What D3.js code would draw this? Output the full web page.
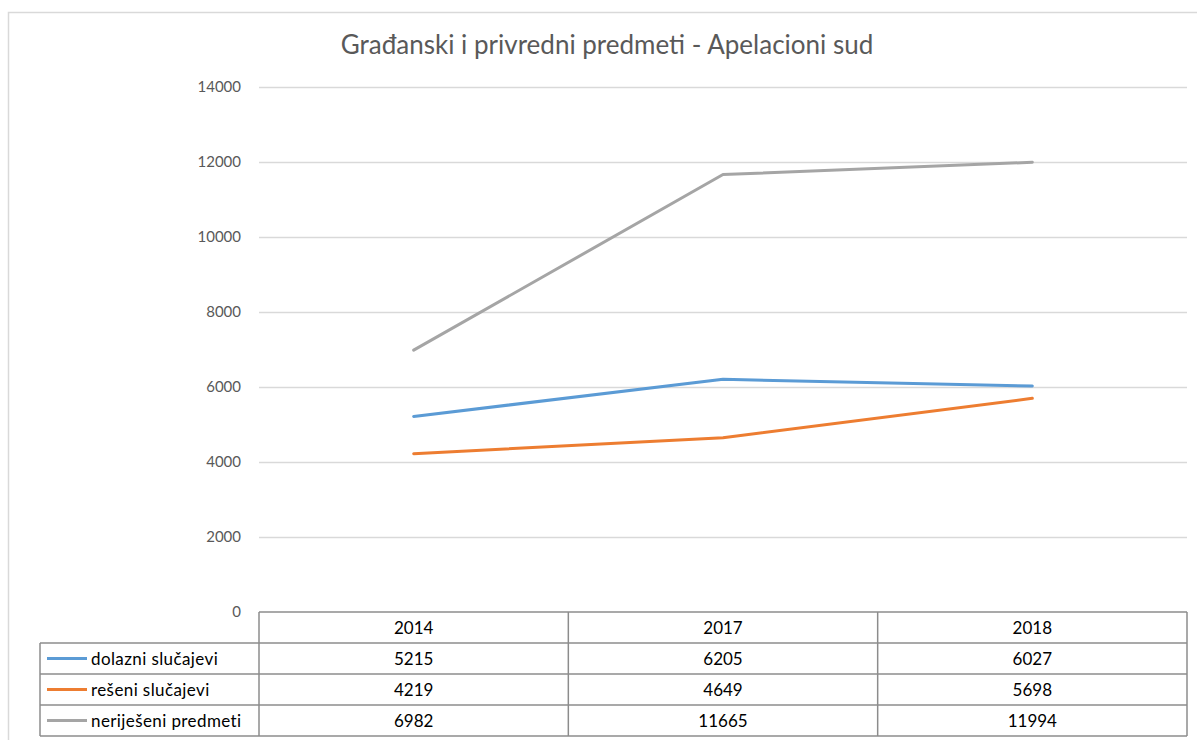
<!DOCTYPE html>
<html>
<head>
<meta charset="utf-8">
<script src="https://cdn.jsdelivr.net/npm/d3@7"></script>
<style>
  body { margin: 0; background: #fff; }
  text { font-family: Lato, "Open Sans", sans-serif; }
</style>
</head>
<body>
<div id="chart"></div>
<script>
// chart data
const years = ["2014", "2017", "2018"];
const seriesNames = ["dolazni slučajevi", "rešeni slučajevi", "neriješeni predmeti"];
const dolazni = [5215, 6205, 6027];
const reseni = [4219, 4649, 5698];
const nerijeseni = [6982, 11665, 11994];
const yTicks = [0, 2000, 4000, 6000, 8000, 10000, 12000, 14000];
const colors = ["#5B9BD5", "#ED7D31", "#A5A5A5"];

const allSeries = [dolazni, reseni, nerijeseni];

const W = 1197, H = 740;
const plot = { left: 259, right: 1187, top: 87, bottom: 612 };
const rowH = 31;
const tableLeft = 40;

const svg = d3.select("#chart").append("svg")
    .attr("width", W)
    .attr("height", H);

// outer chart border
svg.append("rect")
    .attr("x", 8.5).attr("y", 12.5)
    .attr("width", 1300).attr("height", 800)
    .attr("fill", "none")
    .attr("stroke", "#d9d9d9")
    .attr("stroke-width", 1.5);

svg.append("text")
    .attr("x", 607).attr("y", 54)
    .attr("text-anchor", "middle")
    .attr("font-size", 26)
    .attr("fill", "#595959")
    .text("Građanski i privredni predmeti - Apelacioni sud");

const x = d3.scaleBand().domain(years).range([plot.left, plot.right]);
const y = d3.scaleLinear().domain([0, 14000]).range([plot.bottom, plot.top]);

// gridlines + y labels
const yAxis = d3.axisLeft(y).tickValues(yTicks).tickFormat(d3.format("d"))
    .tickSize(-(plot.right - plot.left)).tickPadding(18);
const gy = svg.append("g").attr("transform", `translate(${plot.left},0)`).call(yAxis);
gy.select(".domain").remove();
gy.selectAll(".tick line")
    .attr("stroke", "#d9d9d9")
    .attr("stroke-width", 1.5)
    .filter(d => d === 0).remove();
gy.selectAll(".tick text")
    .attr("font-size", 15)
    .attr("fill", "#595959")
    .attr("dy", "0.32em");

// lines
const line = d3.line()
    .x((d, i) => x(years[i]) + x.bandwidth() / 2)
    .y(d => y(d));

svg.selectAll("path.series")
    .data(allSeries)
    .enter()
    .append("path")
    .attr("class", "series")
    .attr("d", line)
    .attr("fill", "none")
    .attr("stroke", (d, i) => colors[i])
    .attr("stroke-width", 3)
    .attr("stroke-linejoin", "round")
    .attr("stroke-linecap", "round");

// data table
const tbl = svg.append("g");
const border = "#8c8c8c";

// header row
tbl.append("line")
    .attr("x1", plot.left).attr("x2", plot.right)
    .attr("y1", plot.bottom).attr("y2", plot.bottom)
    .attr("stroke", border).attr("stroke-width", 1.5);

years.forEach(yr => {
    tbl.append("text")
        .attr("x", x(yr) + x.bandwidth() / 2)
        .attr("y", plot.bottom + rowH / 2 + 6)
        .attr("text-anchor", "middle")
        .attr("font-size", 17)
        .attr("fill", "#000")
        .text(yr);
});

// horizontal row lines
d3.range(4).forEach(i => {
    tbl.append("line")
        .attr("x1", tableLeft).attr("x2", plot.right)
        .attr("y1", plot.bottom + rowH * (i + 1)).attr("y2", plot.bottom + rowH * (i + 1))
        .attr("stroke", border).attr("stroke-width", 1.5);
});

// vertical lines
tbl.append("line")
    .attr("x1", tableLeft).attr("x2", tableLeft)
    .attr("y1", plot.bottom + rowH).attr("y2", plot.bottom + rowH * 4)
    .attr("stroke", border).attr("stroke-width", 1.5);
[plot.left, ...years.map(yr => x(yr) + x.bandwidth())].forEach(xx => {
    tbl.append("line")
        .attr("x1", xx).attr("x2", xx)
        .attr("y1", plot.bottom).attr("y2", plot.bottom + rowH * 4)
        .attr("stroke", border).attr("stroke-width", 1.5);
});

// rows
allSeries.forEach((vals, i) => {
    const cy = plot.bottom + rowH * (i + 1) + rowH / 2;
    tbl.append("line")
        .attr("x1", 47).attr("x2", 87)
        .attr("y1", cy).attr("y2", cy)
        .attr("stroke", colors[i]).attr("stroke-width", 3);
    tbl.append("text")
        .attr("x", 91).attr("y", cy + 6)
        .attr("font-size", 17)
        .attr("letter-spacing", 0.4)
        .attr("fill", "#000")
        .text(seriesNames[i]);
    vals.forEach((v, j) => {
        tbl.append("text")
            .attr("x", x(years[j]) + x.bandwidth() / 2)
            .attr("y", cy + 6)
            .attr("text-anchor", "middle")
            .attr("font-size", 17)
            .attr("fill", "#000")
            .text(v);
    });
});
</script>
</body>
</html>
